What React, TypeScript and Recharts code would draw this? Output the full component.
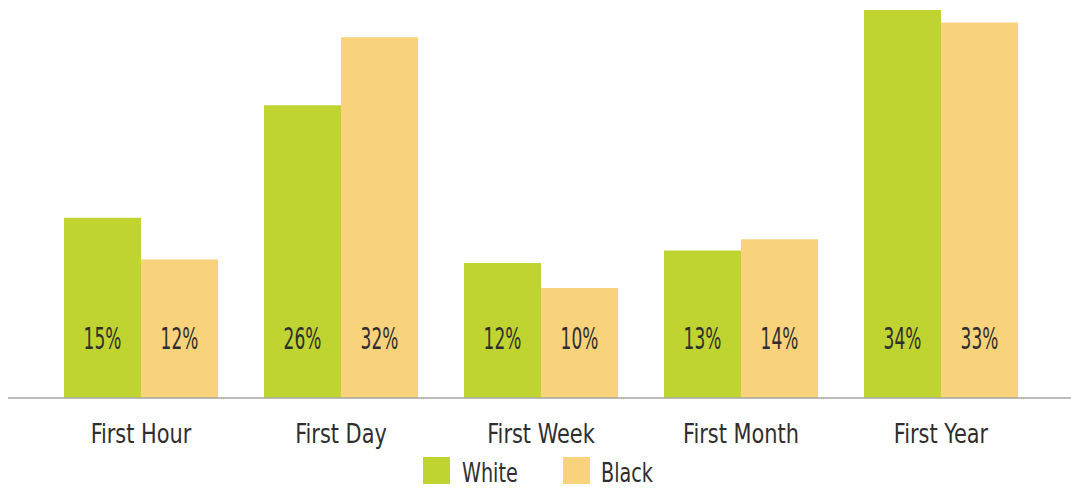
import React from 'react';
import { BarChart, Bar, XAxis, YAxis, Legend, LabelList } from 'recharts';

const categories = ['First Hour', 'First Day', 'First Week', 'First Month', 'First Year'];
const whiteValues = [15.9, 25.8, 11.9, 13.0, 34.2];
const blackValues = [12.2, 31.8, 9.7, 14.0, 33.1];
const whiteLabels = ['15%', '26%', '12%', '13%', '34%'];
const blackLabels = ['12%', '32%', '10%', '14%', '33%'];
const seriesNames = ['White', 'Black'];

const GREEN = '#c0d431';
const YELLOW = '#f9d27c';
const TEXT = '#2e2e2e';
const FONT = '"DejaVu Sans Condensed", "DejaVu Sans", sans-serif';

const data = categories.map((c, i) => ({
  name: c,
  White: whiteValues[i],
  Black: blackValues[i],
}));

const NarrowText = ({ x, y, sx, size, anchor = 'middle', children }: any) => (
  <text
    transform={`translate(${x},${y}) scale(${sx},1)`}
    textAnchor={anchor}
    fill={TEXT}
    fontSize={size}
    fontFamily={FONT}
  >
    {children}
  </text>
);

const makeLabel = (labels: string[]) => (props: any) => {
  const { x, y, width, height, index } = props;
  const base = y + height;
  return (
    <NarrowText x={x + width / 2} y={base - 49} sx={0.63} size={30}>
      {labels[index]}
    </NarrowText>
  );
};

const Tick = (props: any) => {
  const { x, y, payload } = props;
  return (
    <NarrowText x={x} y={y + 37} sx={0.86} size={27}>
      {payload.value}
    </NarrowText>
  );
};

const LegendContent = () => (
  <div style={{ display: 'flex', justifyContent: 'center', height: 40 }}>
    <svg width={320} height={40} style={{ overflow: 'visible' }}>
      <g transform="translate(43,0)">
        <rect x={0} y={9} width={27} height={27} fill={GREEN} />
        <NarrowText x={39} y={34} sx={0.82} size={26} anchor="start">{seriesNames[0]}</NarrowText>
        <rect x={140} y={9} width={27} height={27} fill={YELLOW} />
        <NarrowText x={178} y={34} sx={0.82} size={26} anchor="start">{seriesNames[1]}</NarrowText>
      </g>
    </svg>
  </div>
);

export default function App() {
  return (
    <div style={{ position: 'absolute', left: 0, top: 0, width: 1071, height: 488, background: '#fff' }}>
      <BarChart width={1071} height={488} data={data} margin={{ top: 1, right: 0, bottom: 0, left: 8 }} barCategoryGap="11.5%" barGap={0}>
        <XAxis dataKey="name" tickLine={false} axisLine={{ stroke: '#a6a6a6', strokeWidth: 1.5 }} tick={<Tick />} height={50} padding={{ left: 33, right: 30 }} interval={0} />
        <YAxis hide domain={[0, 35]} />
        <Legend verticalAlign="bottom" height={40} content={<LegendContent />} />
        <Bar dataKey="White" name={seriesNames[0]} fill={GREEN} isAnimationActive={false}>
          <LabelList dataKey="White" content={makeLabel(whiteLabels)} />
        </Bar>
        <Bar dataKey="Black" name={seriesNames[1]} fill={YELLOW} isAnimationActive={false}>
          <LabelList dataKey="Black" content={makeLabel(blackLabels)} />
        </Bar>
      </BarChart>
    </div>
  );
}
